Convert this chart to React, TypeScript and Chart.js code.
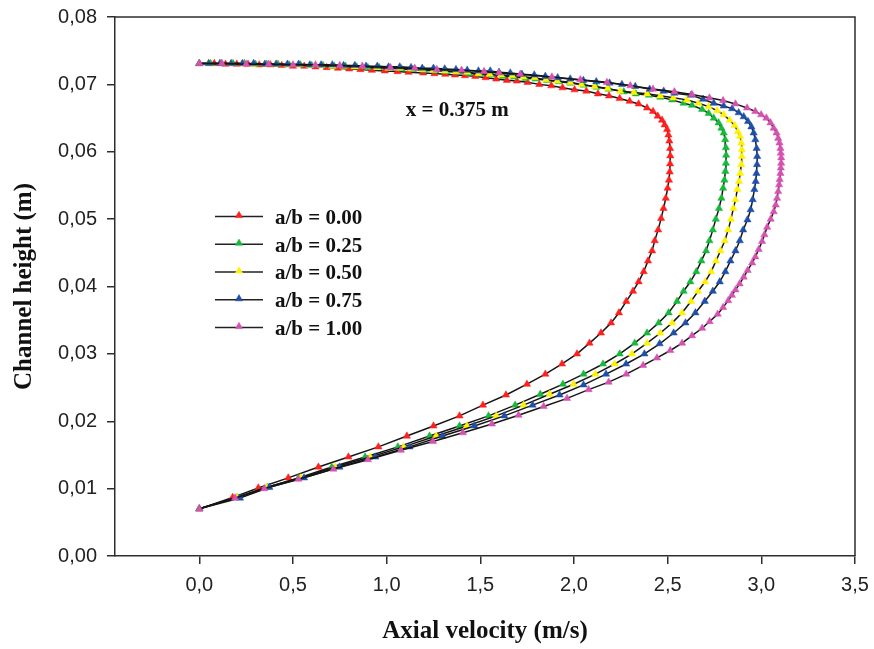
import React, { useEffect, useRef } from 'react';
import { Chart, registerables } from 'chart.js';

Chart.register(...registerables);

// ---------- data ----------
const seriesLabels = ['a/b = 0.00', 'a/b = 0.25', 'a/b = 0.50', 'a/b = 0.75', 'a/b = 1.00'];
const seriesColors = ['#ff1f1f', '#17b83b', '#fff200', '#1f4fa8', '#d452b0'];

// [axial velocity (m/s), channel height (m)]
const ab000: [number, number][] = [
  [0.000, 0.0070], [0.178, 0.0087], [0.315, 0.0101], [0.475, 0.0116], [0.636, 0.0132], [0.796, 0.0147],
  [0.956, 0.0162], [1.108, 0.0178], [1.250, 0.0193], [1.389, 0.0208], [1.514, 0.0224], [1.637, 0.0239],
  [1.749, 0.0255], [1.847, 0.0270], [1.936, 0.0285], [2.016, 0.0300], [2.083, 0.0316], [2.144, 0.0331],
  [2.198, 0.0346], [2.240, 0.0361], [2.279, 0.0378], [2.315, 0.0393], [2.345, 0.0407], [2.372, 0.0422],
  [2.395, 0.0438], [2.417, 0.0453], [2.431, 0.0468], [2.449, 0.0484], [2.465, 0.0501], [2.478, 0.0516],
  [2.490, 0.0531], [2.500, 0.0546], [2.507, 0.0558], [2.511, 0.0570], [2.513, 0.0582], [2.514, 0.0594],
  [2.513, 0.0605], [2.509, 0.0616], [2.504, 0.0625], [2.497, 0.0633], [2.484, 0.0640], [2.470, 0.0647],
  [2.447, 0.0653], [2.422, 0.0660], [2.390, 0.0665], [2.345, 0.0671], [2.297, 0.0675], [2.244, 0.0679],
  [2.187, 0.0683], [2.128, 0.0686], [2.066, 0.0690], [2.003, 0.0692], [1.939, 0.0695], [1.879, 0.0698],
  [1.815, 0.0700], [1.752, 0.0703], [1.695, 0.0705], [1.642, 0.0706], [1.585, 0.0708], [1.528, 0.0710],
  [1.473, 0.0712], [1.418, 0.0713], [1.365, 0.0714], [1.313, 0.0715], [1.255, 0.0716], [1.195, 0.0717],
  [1.117, 0.0718], [1.058, 0.0719], [0.990, 0.0720], [0.921, 0.0721], [0.860, 0.0722], [0.800, 0.0723],
  [0.740, 0.0724], [0.680, 0.0725], [0.620, 0.0726], [0.560, 0.0727], [0.500, 0.0727], [0.440, 0.0728],
  [0.380, 0.0729], [0.320, 0.0729], [0.260, 0.0730], [0.200, 0.0730], [0.140, 0.0730], [0.080, 0.0731],
  [0.000, 0.0731],
];

const ab025: [number, number][] = [
  [0.000, 0.0070], [0.200, 0.0087], [0.363, 0.0102], [0.529, 0.0116], [0.707, 0.0132], [0.885, 0.0147],
  [1.060, 0.0162], [1.229, 0.0178], [1.389, 0.0193], [1.544, 0.0208], [1.686, 0.0224], [1.820, 0.0240],
  [1.941, 0.0255], [2.051, 0.0270], [2.155, 0.0285], [2.244, 0.0300], [2.324, 0.0316], [2.390, 0.0331],
  [2.452, 0.0346], [2.505, 0.0361], [2.550, 0.0378], [2.585, 0.0393], [2.621, 0.0407], [2.653, 0.0422],
  [2.680, 0.0438], [2.705, 0.0453], [2.723, 0.0468], [2.741, 0.0484], [2.757, 0.0500], [2.774, 0.0516],
  [2.787, 0.0531], [2.796, 0.0546], [2.803, 0.0558], [2.808, 0.0571], [2.811, 0.0583], [2.812, 0.0595],
  [2.811, 0.0606], [2.807, 0.0618], [2.799, 0.0628], [2.787, 0.0635], [2.772, 0.0643], [2.746, 0.0650],
  [2.719, 0.0657], [2.684, 0.0663], [2.630, 0.0669], [2.585, 0.0672], [2.524, 0.0677], [2.461, 0.0681],
  [2.400, 0.0684], [2.330, 0.0686], [2.266, 0.0689], [2.186, 0.0693], [2.120, 0.0696], [2.052, 0.0699],
  [1.980, 0.0702], [1.920, 0.0704], [1.856, 0.0706], [1.795, 0.0708], [1.741, 0.0709], [1.680, 0.0711],
  [1.620, 0.0712], [1.560, 0.0714], [1.500, 0.0715], [1.440, 0.0716], [1.380, 0.0718], [1.320, 0.0719],
  [1.260, 0.0720], [1.200, 0.0721], [1.140, 0.0722], [1.080, 0.0723], [1.020, 0.0724], [0.960, 0.0725],
  [0.900, 0.0725], [0.840, 0.0726], [0.780, 0.0727], [0.720, 0.0727], [0.660, 0.0728], [0.600, 0.0728],
  [0.540, 0.0729], [0.480, 0.0729], [0.420, 0.0730], [0.360, 0.0730], [0.300, 0.0730], [0.240, 0.0731],
  [0.180, 0.0731], [0.120, 0.0731], [0.060, 0.0731], [0.000, 0.0731],
];

const ab050: [number, number][] = [
  [0.000, 0.0070], [0.200, 0.0087], [0.360, 0.0102], [0.542, 0.0116], [0.725, 0.0132], [0.912, 0.0147],
  [1.090, 0.0162], [1.264, 0.0178], [1.428, 0.0193], [1.585, 0.0208], [1.731, 0.0224], [1.870, 0.0240],
  [1.998, 0.0255], [2.114, 0.0270], [2.217, 0.0285], [2.310, 0.0300], [2.390, 0.0316], [2.461, 0.0331],
  [2.524, 0.0346], [2.577, 0.0361], [2.625, 0.0378], [2.662, 0.0393], [2.700, 0.0407], [2.732, 0.0422],
  [2.758, 0.0438], [2.782, 0.0453], [2.805, 0.0468], [2.823, 0.0484], [2.838, 0.0500], [2.851, 0.0516],
  [2.862, 0.0529], [2.872, 0.0544], [2.881, 0.0556], [2.887, 0.0568], [2.893, 0.0581], [2.896, 0.0593],
  [2.896, 0.0603], [2.893, 0.0613], [2.886, 0.0623], [2.874, 0.0630], [2.858, 0.0639], [2.831, 0.0647],
  [2.799, 0.0655], [2.764, 0.0661], [2.719, 0.0667], [2.665, 0.0672], [2.603, 0.0677], [2.530, 0.0680],
  [2.461, 0.0683], [2.390, 0.0686], [2.320, 0.0688], [2.247, 0.0690], [2.180, 0.0694], [2.110, 0.0697],
  [2.040, 0.0700], [1.980, 0.0703], [1.910, 0.0705], [1.850, 0.0707], [1.790, 0.0710], [1.730, 0.0711],
  [1.670, 0.0713], [1.610, 0.0714], [1.550, 0.0715], [1.490, 0.0716], [1.430, 0.0718], [1.370, 0.0719],
  [1.310, 0.0720], [1.250, 0.0721], [1.190, 0.0722], [1.130, 0.0723], [1.070, 0.0724], [1.010, 0.0724],
  [0.950, 0.0725], [0.890, 0.0726], [0.830, 0.0726], [0.770, 0.0727], [0.710, 0.0727], [0.650, 0.0728],
  [0.590, 0.0728], [0.530, 0.0729], [0.470, 0.0729], [0.410, 0.0730], [0.350, 0.0730], [0.290, 0.0730],
  [0.230, 0.0731], [0.170, 0.0731], [0.110, 0.0731], [0.050, 0.0731], [0.000, 0.0731],
];

const ab075: [number, number][] = [
  [0.000, 0.0070], [0.217, 0.0086], [0.374, 0.0102], [0.559, 0.0116], [0.748, 0.0132], [0.939, 0.0147],
  [1.122, 0.0162], [1.298, 0.0178], [1.468, 0.0193], [1.628, 0.0208], [1.779, 0.0224], [1.923, 0.0239],
  [2.051, 0.0254], [2.171, 0.0270], [2.278, 0.0285], [2.376, 0.0300], [2.457, 0.0315], [2.532, 0.0331],
  [2.595, 0.0346], [2.648, 0.0361], [2.698, 0.0378], [2.741, 0.0393], [2.778, 0.0407], [2.808, 0.0422],
  [2.835, 0.0438], [2.862, 0.0453], [2.885, 0.0468], [2.903, 0.0484], [2.926, 0.0499], [2.943, 0.0514],
  [2.954, 0.0529], [2.963, 0.0544], [2.970, 0.0556], [2.974, 0.0568], [2.977, 0.0581], [2.978, 0.0593],
  [2.975, 0.0605], [2.968, 0.0618], [2.959, 0.0628], [2.947, 0.0637], [2.929, 0.0645], [2.906, 0.0652],
  [2.879, 0.0658], [2.844, 0.0664], [2.799, 0.0668], [2.746, 0.0672], [2.689, 0.0678], [2.625, 0.0684],
  [2.536, 0.0687], [2.479, 0.0690], [2.404, 0.0693], [2.327, 0.0697], [2.256, 0.0700], [2.190, 0.0702],
  [2.119, 0.0704], [2.050, 0.0706], [1.980, 0.0708], [1.913, 0.0710], [1.847, 0.0712], [1.788, 0.0714],
  [1.722, 0.0715], [1.660, 0.0717], [1.600, 0.0718], [1.553, 0.0720], [1.490, 0.0720], [1.430, 0.0721],
  [1.370, 0.0722], [1.310, 0.0723], [1.250, 0.0724], [1.190, 0.0724], [1.130, 0.0725], [1.070, 0.0726],
  [1.010, 0.0726], [0.950, 0.0727], [0.890, 0.0727], [0.830, 0.0728], [0.770, 0.0728], [0.710, 0.0729],
  [0.650, 0.0729], [0.590, 0.0729], [0.530, 0.0730], [0.470, 0.0730], [0.410, 0.0730], [0.350, 0.0730],
  [0.290, 0.0731], [0.230, 0.0731], [0.170, 0.0731], [0.110, 0.0731], [0.050, 0.0731], [0.000, 0.0731],
];

const ab100: [number, number][] = [
  [0.000, 0.0070], [0.191, 0.0086], [0.347, 0.0100], [0.529, 0.0114], [0.716, 0.0129], [0.900, 0.0143],
  [1.076, 0.0157], [1.247, 0.0170], [1.407, 0.0183], [1.562, 0.0196], [1.704, 0.0209], [1.838, 0.0222],
  [1.963, 0.0234], [2.078, 0.0247], [2.185, 0.0258], [2.279, 0.0270], [2.369, 0.0283], [2.443, 0.0294],
  [2.514, 0.0305], [2.577, 0.0316], [2.630, 0.0327], [2.684, 0.0338], [2.724, 0.0348], [2.767, 0.0359],
  [2.796, 0.0369], [2.823, 0.0379], [2.843, 0.0387], [2.862, 0.0395], [2.884, 0.0404], [2.906, 0.0414],
  [2.927, 0.0424], [2.951, 0.0435], [2.968, 0.0444], [2.986, 0.0455], [3.004, 0.0467], [3.017, 0.0477],
  [3.031, 0.0488], [3.050, 0.0500], [3.066, 0.0511], [3.077, 0.0521], [3.084, 0.0531], [3.090, 0.0541],
  [3.095, 0.0551], [3.098, 0.0559], [3.102, 0.0568], [3.104, 0.0576], [3.106, 0.0583], [3.106, 0.0591],
  [3.104, 0.0598], [3.102, 0.0605], [3.097, 0.0613], [3.090, 0.0620], [3.081, 0.0628], [3.066, 0.0635],
  [3.049, 0.0643], [3.027, 0.0650], [2.999, 0.0655], [2.968, 0.0660], [2.924, 0.0665], [2.862, 0.0671],
  [2.796, 0.0676], [2.723, 0.0680], [2.630, 0.0685], [2.536, 0.0689], [2.422, 0.0693], [2.301, 0.0698],
  [2.176, 0.0703], [2.034, 0.0707], [1.882, 0.0711], [1.713, 0.0715], [1.600, 0.0717], [1.520, 0.0719],
  [1.400, 0.0721], [1.268, 0.0722], [1.150, 0.0724], [1.020, 0.0725], [0.870, 0.0727], [0.750, 0.0728],
  [0.620, 0.0729], [0.500, 0.0729], [0.370, 0.0730], [0.250, 0.0730], [0.120, 0.0731], [0.000, 0.0731],
];

const seriesData = [ab000, ab025, ab050, ab075, ab100];

const xTicks = [0, 0.5, 1.0, 1.5, 2.0, 2.5, 3.0, 3.5];
const yTicks = [0, 0.01, 0.02, 0.03, 0.04, 0.05, 0.06, 0.07, 0.08];
const xRange = [-0.45, 3.5];
const yRange = [0, 0.08];

const xTitle = 'Axial velocity (m/s)';
const yTitle = 'Channel height (m)';
const annotationText = 'x = 0.375 m';
const annotationAt = [1.377, 0.0661];

// ---------- styling ----------
const SANS = '"Liberation Sans", Arial, sans-serif';
const SERIF = '"Liberation Serif", "Times New Roman", serif';
const AXIS = '#2e2e2e';
const MARKER_R = 4.2;

function drawTriangle(ctx: CanvasRenderingContext2D, x: number, y: number, r: number, color: string) {
  ctx.beginPath();
  let a = 0;
  ctx.moveTo(x + Math.sin(a) * r, y - Math.cos(a) * r);
  a += (2 * Math.PI) / 3;
  ctx.lineTo(x + Math.sin(a) * r, y - Math.cos(a) * r);
  a += (2 * Math.PI) / 3;
  ctx.lineTo(x + Math.sin(a) * r, y - Math.cos(a) * r);
  ctx.closePath();
  ctx.fillStyle = color;
  ctx.fill();
  ctx.strokeStyle = color;
  ctx.lineWidth = 0.5;
  ctx.stroke();
}

const decorPlugin = {
  id: 'decor',
  afterDraw(chart: any) {
    const { ctx, chartArea: ca, scales } = chart;
    ctx.save();
    // top + right frame
    ctx.strokeStyle = AXIS;
    ctx.lineWidth = 1.5;
    ctx.beginPath();
    ctx.moveTo(ca.left, ca.top);
    ctx.lineTo(ca.right, ca.top);
    ctx.lineTo(ca.right, ca.bottom);
    ctx.stroke();

    // annotation
    ctx.fillStyle = '#111';
    ctx.font = `bold 21px ${SERIF}`;
    ctx.textAlign = 'center';
    ctx.textBaseline = 'middle';
    ctx.fillText(annotationText, scales.x.getPixelForValue(annotationAt[0]), scales.y.getPixelForValue(annotationAt[1]));

    // legend
    const lx0 = ca.left + 100;
    const lx1 = ca.left + 148;
    const mx = ca.left + 124;
    const tx = ca.left + 160;
    const y0 = ca.top + 199.5;
    const dy = 27.75;
    chart.data.datasets.forEach((ds: any, i: number) => {
      const y = y0 + i * dy;
      ctx.strokeStyle = '#222';
      ctx.lineWidth = 1.6;
      ctx.beginPath();
      ctx.moveTo(lx0, y);
      ctx.lineTo(lx1, y);
      ctx.stroke();
      drawTriangle(ctx, mx, y - 1, MARKER_R, seriesColors[i]);
      ctx.fillStyle = '#111';
      ctx.font = `bold 21px ${SERIF}`;
      ctx.textAlign = 'left';
      ctx.textBaseline = 'middle';
      ctx.fillText(ds.label, tx, y + 2);
    });
    ctx.restore();
  },
};

export default function App() {
  const ref = useRef<HTMLCanvasElement | null>(null);

  useEffect(() => {
    if (!ref.current) return;
    const chart = new Chart(ref.current, {
      type: 'scatter',
      data: {
        datasets: seriesData.map((d, i) => ({
          label: seriesLabels[i],
          data: d.map(([x, y]) => ({ x, y })),
          showLine: true,
          borderColor: '#151515',
          borderWidth: 1.5,
          pointStyle: 'triangle',
          pointRadius: MARKER_R,
          pointHoverRadius: MARKER_R,
          pointBackgroundColor: seriesColors[i],
          pointBorderColor: seriesColors[i],
          pointBorderWidth: 0.5,
          tension: 0,
          fill: false,
          order: seriesData.length - 1 - i,
        })),
      },
      options: {
        responsive: false,
        animation: false,
        devicePixelRatio: 1,
        layout: { padding: { left: 0, right: 19, top: 17, bottom: 0 } },
        plugins: {
          legend: { display: false },
          tooltip: { enabled: false },
        },
        scales: {
          x: {
            type: 'linear',
            min: xRange[0],
            max: xRange[1],
            afterBuildTicks: (s: any) => {
              s.ticks = xTicks.map((v) => ({ value: v }));
            },
            afterFit: (s: any) => {
              s.height = 93;
              s.paddingLeft = 0;
              s.paddingRight = 0;
            },
            ticks: {
              callback: (v: any) => Number(v).toFixed(1).replace('.', ','),
              font: { family: SANS, size: 20 },
              color: '#222',
              padding: 9,
              maxRotation: 0,
              autoSkip: false,
            },
            grid: {
              drawOnChartArea: false,
              drawTicks: true,
              tickLength: 8,
              tickColor: AXIS,
              tickWidth: 1.5,
              lineWidth: 1.5,
              color: AXIS,
            },
            border: { display: true, color: AXIS, width: 1.5 },
            title: {
              display: true,
              text: xTitle,
              color: '#111',
              font: { family: SERIF, size: 25, weight: 'bold' },
              padding: { top: 0, bottom: 2 },
            },
          },
          y: {
            type: 'linear',
            min: yRange[0],
            max: yRange[1],
            afterBuildTicks: (s: any) => {
              s.ticks = yTicks.map((v) => ({ value: v }));
            },
            afterFit: (s: any) => {
              s.width = 115;
              s.paddingTop = 0;
              s.paddingBottom = 0;
            },
            ticks: {
              callback: (v: any) => Number(v).toFixed(2).replace('.', ','),
              font: { family: SANS, size: 20 },
              color: '#222',
              padding: 10,
              autoSkip: false,
            },
            grid: {
              drawOnChartArea: false,
              drawTicks: true,
              tickLength: 8,
              tickColor: AXIS,
              tickWidth: 1.5,
              lineWidth: 1.5,
              color: AXIS,
            },
            border: { display: true, color: AXIS, width: 1.5 },
            title: {
              display: true,
              text: yTitle,
              color: '#111',
              font: { family: SERIF, size: 25, weight: 'bold' },
              padding: { top: 10, bottom: 0 },
            },
          },
        },
      },
      plugins: [decorPlugin],
    } as any);
    return () => chart.destroy();
  }, []);

  return (
    <div style={{ position: 'absolute', left: 0, top: 0, width: 874, height: 649, background: '#fff' }}>
      <canvas ref={ref} width={874} height={649} style={{ display: 'block', width: 874, height: 649 }} />
    </div>
  );
}
